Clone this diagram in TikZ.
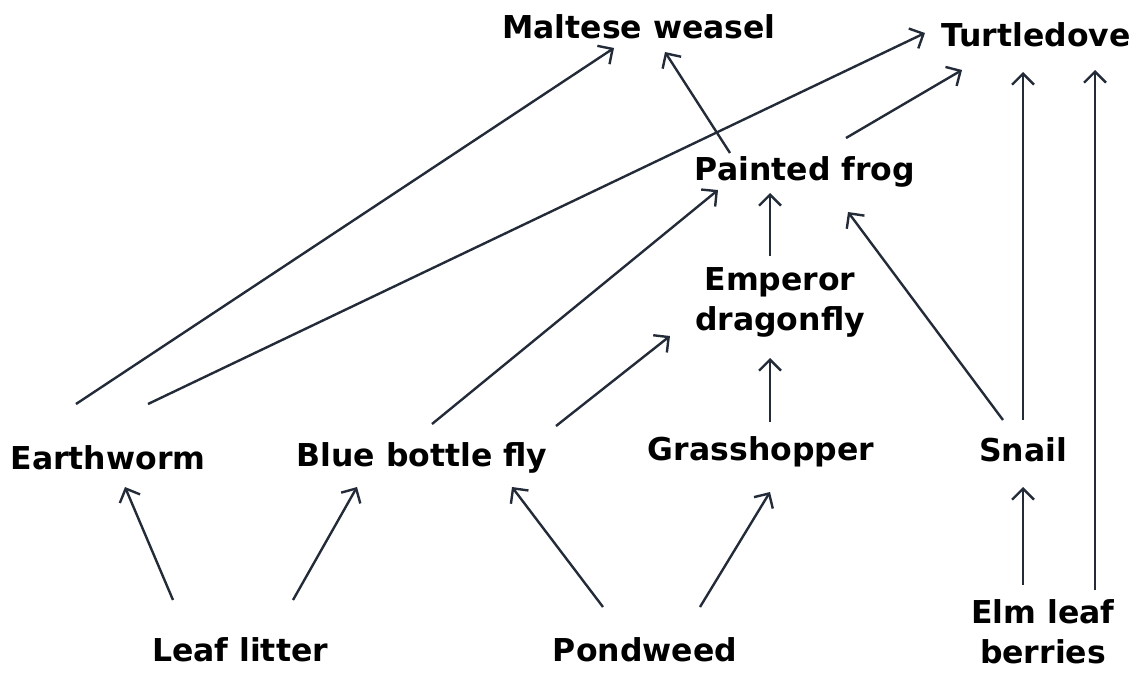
\documentclass[tikz,border=0pt]{standalone}
\usepackage{fontspec}
\setmainfont{DejaVu Sans}
\usetikzlibrary{arrows.meta}

\definecolor{inkline}{HTML}{232B38}

\tikzset{
    animal/.style={font=\fontsize{31.5}{40}\selectfont\bfseries, align=center, inner sep=0pt},
    feeds/.style={draw=inkline, line width=2.4pt, -{Straight Barb[length=11pt, width=22pt, line width=2.4pt]}},
}

\begin{document}
\begin{tikzpicture}[x=1pt, y=-1pt]
    \useasboundingbox (0,0) rectangle (1137,675);

    % organisms
    \node [animal] (weasel) at (639,27) {Maltese weasel};
    \node [animal] (dove) at (1036,35) {Turtledove};
    \node [animal] (frog) at (805,172) {Painted frog};
    \node [animal] (dragon) at (780,302) {Emperor\\dragonfly};
    \node [animal] (worm) at (108,458) {Earthworm};
    \node [animal] (fly) at (422,458) {Blue bottle fly};
    \node [animal] (hopper) at (761,452) {Grasshopper};
    \node [animal] (snail) at (1023,450) {Snail};
    \node [animal] (litter) at (240,650) {Leaf litter};
    \node [animal] (pondweed) at (645,650) {Pondweed};
    \node [animal] (berries) at (1043,632) {Elm leaf\\berries};

    % who eats whom
    \draw [feeds]
        ([shift={(-32,-54)}]worm.center) -- ([shift={(-25,21)}]weasel.center)
        ;
    \draw [feeds]
        ([shift={(40,-54)}]worm.center) -- ([shift={(-111,-2)}]dove.center)
        ;
    \draw [feeds]
        ([shift={(10,-34)}]fly.center) -- ([shift={(-87,18)}]frog.center)
        ;
    \draw [feeds]
        ([shift={(134,-32)}]fly.center) -- ([shift={(-110,34)}]dragon.center)
        ;
    \draw [feeds]
        ([shift={(-75,-19)}]frog.center) -- ([shift={(26,25)}]weasel.center)
        ;
    \draw [feeds]
        ([shift={(41,-34)}]frog.center) -- ([shift={(-74,35)}]dove.center)
        ;
    \draw [feeds]
        ([shift={(-10,-46)}]dragon.center) -- ([shift={(-35,21)}]frog.center)
        ;
    \draw [feeds]
        ([shift={(9,-30)}]hopper.center) -- ([shift={(-10,56)}]dragon.center)
        ;
    \draw [feeds]
        ([shift={(-20,-30)}]snail.center) -- ([shift={(43,40)}]frog.center)
        ;
    \draw [feeds]
        ([shift={(0,-30)}]snail.center) -- ([shift={(-13,37)}]dove.center)
        ;
    \draw [feeds]
        ([shift={(-20,-47)}]berries.center) -- ([shift={(0,37)}]snail.center)
        ;
    \draw [feeds]
        ([shift={(52,-42)}]berries.center) -- ([shift={(59,35)}]dove.center)
        ;
    \draw [feeds]
        ([shift={(-67,-50)}]litter.center) -- ([shift={(17,29)}]worm.center)
        ;
    \draw [feeds]
        ([shift={(53,-50)}]litter.center) -- ([shift={(-65,29)}]fly.center)
        ;
    \draw [feeds]
        ([shift={(-42,-43)}]pondweed.center) -- ([shift={(90,29)}]fly.center)
        ;
    \draw [feeds]
        ([shift={(55,-43)}]pondweed.center) -- ([shift={(9,40)}]hopper.center)
        ;
\end{tikzpicture}
\end{document}
